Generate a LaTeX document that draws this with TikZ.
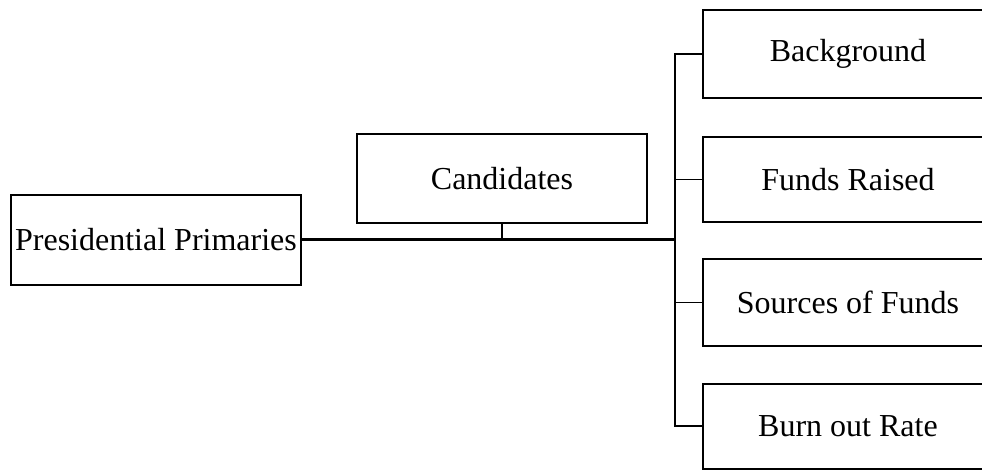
\documentclass[tikz,border=0pt]{standalone}
\usepackage{fontspec}
\setmainfont{Liberation Serif}
\usetikzlibrary{positioning,calc}

\begin{document}
\begin{tikzpicture}[x=1pt,y=-1pt,
		box/.style={rectangle,draw,line width=2pt,minimum width=290pt,minimum height=87pt,inner sep=0pt,font=\fontsize{32}{38}\selectfont},
		link/.style={line width=1.8pt,line cap=rect}]
		
		\useasboundingbox (0,0) rectangle (982,470);
		
		\node[box,minimum height=90pt] (Prim) at (156,240) {Presidential Primaries};
		
		\node[box,minimum height=89pt] (Cand) at (502,178.5) {Candidates};
		
		\node[box,minimum height=88pt] (Back) at (848,54) {Background};
		\node[box,minimum height=85pt] (Funds) at (848,179.5) {Funds Raised};
		\node[box] (Src) at (848,302.5) {Sources of Funds};
		\node[box,minimum height=85pt] (Burn) at (848,426) {Burn out Rate};
		
		\coordinate (Bus) at (675,240);
		
		%main line
		\draw[line width=3pt] (Prim.east) -- (Prim.east -| Bus);
		\draw[link] (Cand.south) -- (Cand.south |- Prim.east);
		
		\draw[link] (Bus |- Back.west) -- (Bus |- Burn.west);
		\draw[link] (Bus |- Back.west) -- (Back.west);
		\draw[link] (Bus |- Funds.west) -- (Funds.west);
		\draw[link] (Bus |- Src.west) -- (Src.west);
		\draw[link] (Bus |- Burn.west) -- (Burn.west);
		
\end{tikzpicture}
\end{document}
